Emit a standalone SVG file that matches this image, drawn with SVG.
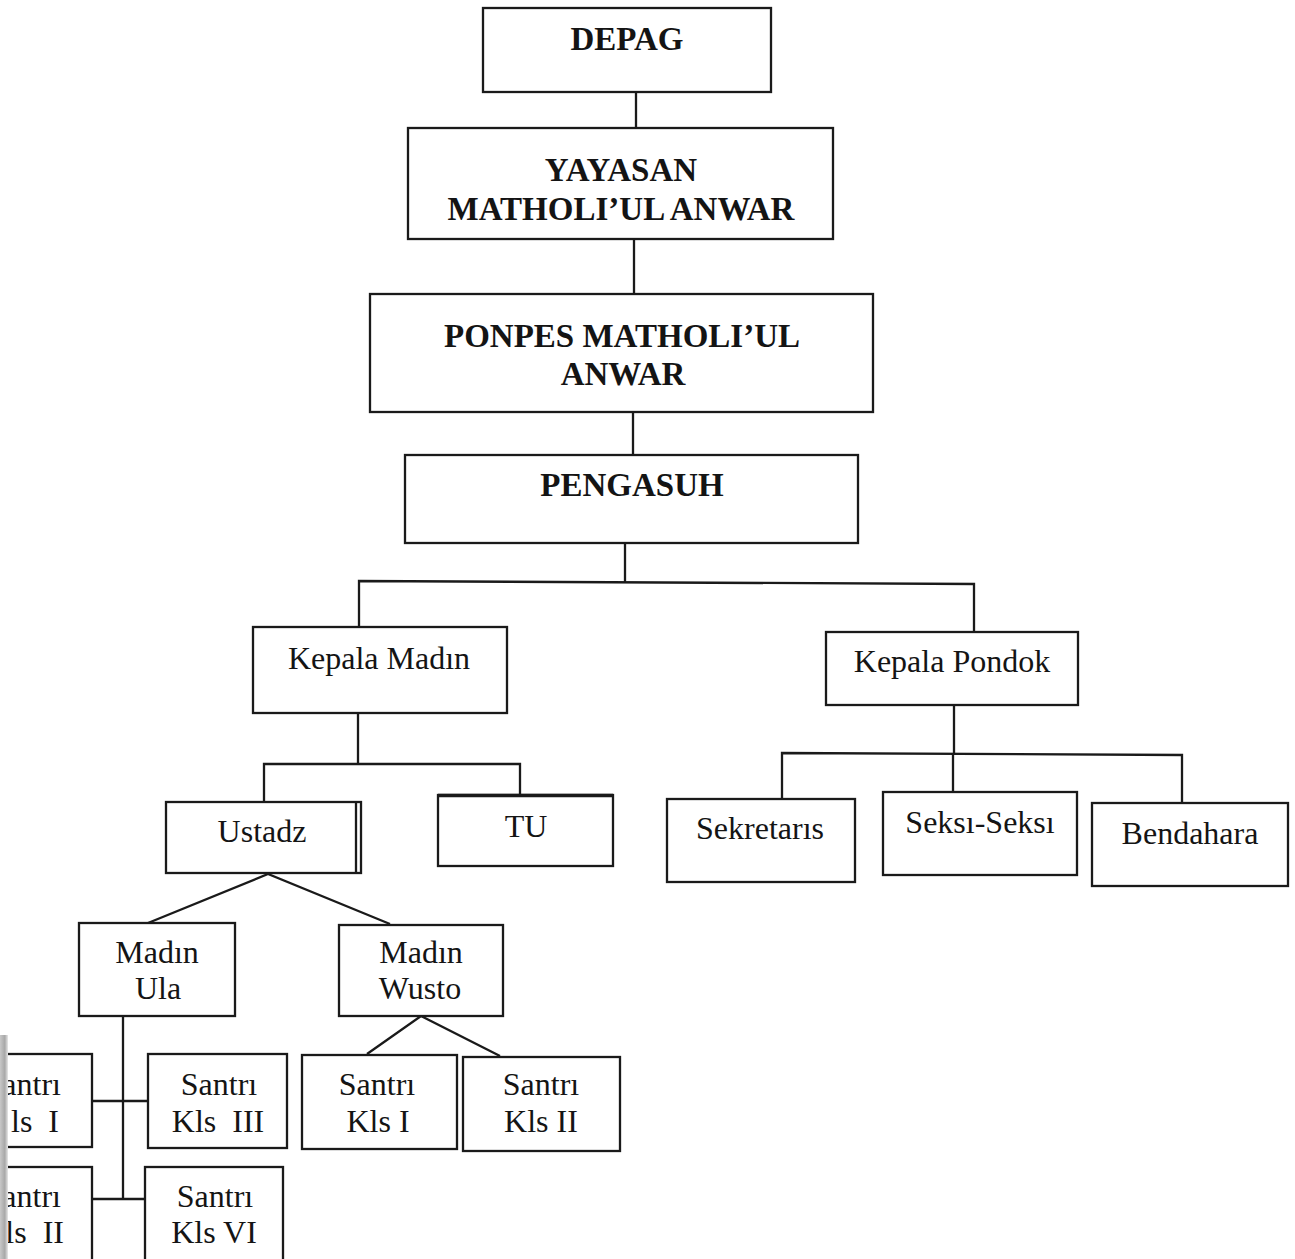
<svg xmlns="http://www.w3.org/2000/svg" width="1295" height="1259" viewBox="0 0 1295 1259">
<style>
.box{fill:#fff;stroke:#1a1a1a;stroke-width:2.3}
.ln{fill:none;stroke:#1a1a1a;stroke-width:2.3}
.t{font-family:"Liberation Serif","Times New Roman",serif;font-size:32px;fill:#141414;text-anchor:middle;white-space:pre}
.b{font-weight:bold;font-size:33px}
.e{text-anchor:end}
</style>
<defs>
<linearGradient id="scan" x1="0" y1="0" x2="1" y2="0">
<stop offset="0" stop-color="#c8c8c8"/>
<stop offset="0.6" stop-color="#a8a8a8"/>
<stop offset="1" stop-color="#e8e8e8"/>
</linearGradient>
</defs>
<rect width="1295" height="1259" fill="#fff"/>
<g id="connectors">
<line class="ln" x1="636" y1="92" x2="636" y2="128"/>
<line class="ln" x1="634" y1="239" x2="634" y2="294"/>
<line class="ln" x1="633" y1="412" x2="633" y2="455"/>
<polyline class="ln" points="625,543 625,582"/>
<polyline class="ln" points="359,627 359,581 974,584 974,632"/>
<line class="ln" x1="358" y1="713" x2="358" y2="764"/>
<polyline class="ln" points="264,802 264,764 520,764 520,795"/>
<line class="ln" x1="954" y1="705" x2="954" y2="753"/>
<polyline class="ln" points="782,799 782,753 1182,755 1182,803"/>
<line class="ln" x1="953" y1="753" x2="953" y2="792"/>
<polyline class="ln" points="148,923 268,874 390,924"/>
<polyline class="ln" points="367,1054 421,1016 500,1056"/>
<line class="ln" x1="123" y1="1016" x2="123" y2="1199"/>
<line class="ln" x1="92" y1="1101" x2="148" y2="1101"/>
<line class="ln" x1="92" y1="1199" x2="145" y2="1199"/>
</g>
<g id="depag"><rect class="box" x="483" y="8" width="288" height="84"/><text class="t b" x="627" y="50">DEPAG</text></g>
<g id="yayasan"><rect class="box" x="408" y="128" width="425" height="111"/><text class="t b" x="621" y="181">YAYASAN</text><text class="t b" x="621" y="220">MATHOLI’UL ANWAR</text></g>
<g id="ponpes"><rect class="box" x="370" y="294" width="503" height="118"/><text class="t b" x="622" y="347">PONPES MATHOLI’UL</text><text class="t b" x="623" y="385">ANWAR</text></g>
<g id="pengasuh"><rect class="box" x="405" y="455" width="453" height="88"/><text class="t b" x="632" y="496">PENGASUH</text></g>
<g id="kepala-madin"><rect class="box" x="253" y="627" width="254" height="86"/><text class="t" x="379" y="669">Kepala Madın</text></g>
<g id="kepala-pondok"><rect class="box" x="826" y="632" width="252" height="73"/><text class="t" x="952" y="672">Kepala Pondok</text></g>
<g id="ustadz"><rect class="box" x="166" y="802" width="195" height="71"/><line class="ln" x1="356" y1="803" x2="356" y2="873" stroke-width="1.5"/><text class="t" x="262" y="842">Ustadz</text></g>
<g id="tu"><rect class="box" x="438" y="795" width="175" height="71"/><line x1="438" y1="795.5" x2="613" y2="795.5" stroke="#1a1a1a" stroke-width="3.5"/><text class="t" x="526" y="837">TU</text></g>
<g id="sekretaris"><rect class="box" x="667" y="799" width="188" height="83"/><text class="t" x="760" y="839">Sekretarıs</text></g>
<g id="seksi"><rect class="box" x="883" y="792" width="194" height="83"/><text class="t" x="980" y="833">Seksı-Seksı</text></g>
<g id="bendahara"><rect class="box" x="1092" y="803" width="196" height="83"/><text class="t" x="1190" y="844">Bendahara</text></g>
<g id="madin-ula"><rect class="box" x="79" y="923" width="156" height="93"/><text class="t" x="157" y="963">Madın</text><text class="t" x="158" y="999">Ula</text></g>
<g id="madin-wusto"><rect class="box" x="339" y="925" width="164" height="91"/><text class="t" x="421" y="963">Madın</text><text class="t" x="420" y="999">Wusto</text></g>
<g id="ula-kls1"><rect class="box" x="-50" y="1054" width="142" height="93"/><text class="t e" x="61" y="1095">antrı</text><text class="t e" x="59" y="1132">ls  I</text></g>
<g id="ula-kls3"><rect class="box" x="148" y="1054" width="139" height="94"/><text class="t" x="219" y="1095">Santrı</text><text class="t" x="218" y="1132">Kls  III</text></g>
<g id="ula-kls2"><rect class="box" x="-50" y="1167" width="142" height="110"/><text class="t e" x="61" y="1207">antrı</text><text class="t e" x="64" y="1243">ls  II</text></g>
<g id="ula-kls6"><rect class="box" x="145" y="1167" width="138" height="110"/><text class="t" x="215" y="1207">Santrı</text><text class="t" x="214" y="1243">Kls VI</text></g>
<g id="wusto-kls1"><rect class="box" x="302" y="1055" width="155" height="94"/><text class="t" x="377" y="1095">Santrı</text><text class="t" x="378" y="1132">Kls I</text></g>
<g id="wusto-kls2"><rect class="box" x="463" y="1057" width="157" height="94"/><text class="t" x="541" y="1095">Santrı</text><text class="t" x="541" y="1132">Kls II</text></g>
<rect x="0" y="1035" width="8" height="224" fill="url(#scan)"/>
</svg>
